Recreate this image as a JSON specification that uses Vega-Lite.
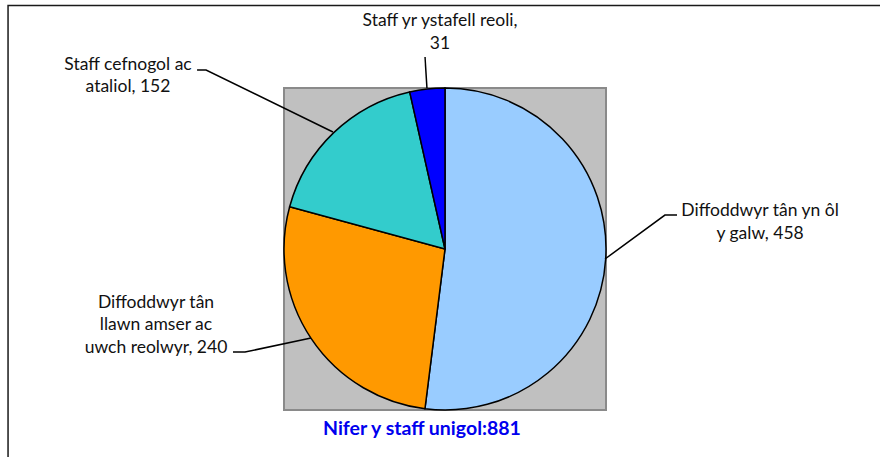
{
  "$schema": "https://vega.github.io/schema/vega-lite/v6.json",
  "width": 322,
  "height": 322,
  "autosize": {"type": "none"},
  "padding": {"left": 284, "top": 88, "right": 274, "bottom": 47},
  "background": "white",
  "config": {
    "view": {"fill": "#c0c0c0", "stroke": "#8a8a8a", "strokeWidth": 2},
    "font": "Lato"
  },
  "datasets": {
    "slices": [
      {"category": "Diffoddwyr tân yn ôl y galw", "value": 458, "seq": 1},
      {"category": "Diffoddwyr tân llawn amser ac uwch reolwyr", "value": 240, "seq": 2},
      {"category": "Staff cefnogol ac ataliol", "value": 152, "seq": 3},
      {"category": "Staff yr ystafell reoli", "value": 31, "seq": 4}
    ],
    "labels": [
      {"label": "Staff yr ystafell reoli,\n31", "u": -0.031, "v": 1.416},
      {"label": "Staff cefnogol ac\nataliol, 152", "u": -1.969, "v": 1.143},
      {"label": "Diffoddwyr tân\nllawn amser ac\nuwch reolwyr, 240", "u": -1.795, "v": -0.335},
      {"label": "Diffoddwyr tân yn ôl\ny galw, 458", "u": 1.957, "v": 0.236}
    ],
    "leaders": [
      {"id": "a", "seq": 1, "u": -0.124, "v": 1.193},
      {"id": "a", "seq": 2, "u": -0.112, "v": 1.0},
      {"id": "b", "seq": 1, "u": -1.540, "v": 1.112},
      {"id": "b", "seq": 2, "u": -1.484, "v": 1.112},
      {"id": "b", "seq": 3, "u": -0.696, "v": 0.727},
      {"id": "c", "seq": 1, "u": -1.317, "v": -0.640},
      {"id": "c", "seq": 2, "u": -1.242, "v": -0.640},
      {"id": "c", "seq": 3, "u": -0.832, "v": -0.553},
      {"id": "d", "seq": 1, "u": 1.441, "v": 0.211},
      {"id": "d", "seq": 2, "u": 1.366, "v": 0.211},
      {"id": "d", "seq": 3, "u": 0.994, "v": -0.062}
    ],
    "frame": [{"u1": -2.714, "u2": 3.2, "v1": 1.512, "v2": -1.8}],
    "total": [{"text": "Nifer y staff unigol:881", "u": -0.143, "v": -1.115}]
  },
  "layer": [
    {
      "data": {"name": "slices"},
      "mark": {"type": "arc", "stroke": "black", "strokeWidth": 1.5},
      "encoding": {
        "theta": {"field": "value", "type": "quantitative", "stack": true},
        "order": {"field": "seq", "type": "quantitative"},
        "color": {
          "field": "category",
          "type": "nominal",
          "legend": null,
          "scale": {
            "domain": ["Diffoddwyr tân yn ôl y galw", "Diffoddwyr tân llawn amser ac uwch reolwyr", "Staff cefnogol ac ataliol", "Staff yr ystafell reoli"],
            "range": ["#99ccff", "#ff9900", "#33cccc", "#0000ff"]
          }
        }
      }
    },
    {
      "data": {"name": "leaders"},
      "mark": {"type": "line", "color": "black", "strokeWidth": 1.5, "clip": false},
      "encoding": {
        "x": {"field": "u", "type": "quantitative", "scale": {"domain": [-1, 1], "nice": false, "zero": false}, "axis": null},
        "y": {"field": "v", "type": "quantitative", "scale": {"domain": [-1, 1], "nice": false, "zero": false}, "axis": null},
        "detail": {"field": "id"},
        "order": {"field": "seq", "type": "quantitative"}
      }
    },
    {
      "data": {"name": "labels"},
      "mark": {"type": "text", "fontSize": 17.5, "color": "#111", "align": "center", "baseline": "middle", "lineBreak": "\n", "lineHeight": 22.5, "clip": false},
      "encoding": {
        "x": {"field": "u", "type": "quantitative", "scale": {"domain": [-1, 1], "nice": false, "zero": false}, "axis": null},
        "y": {"field": "v", "type": "quantitative", "scale": {"domain": [-1, 1], "nice": false, "zero": false}, "axis": null},
        "text": {"field": "label"}
      }
    },
    {
      "data": {"name": "total"},
      "mark": {"type": "text", "fontSize": 19.5, "fontWeight": "bold", "color": "#0000ee", "align": "center", "baseline": "middle", "clip": false},
      "encoding": {
        "x": {"field": "u", "type": "quantitative", "scale": {"domain": [-1, 1], "nice": false, "zero": false}, "axis": null},
        "y": {"field": "v", "type": "quantitative", "scale": {"domain": [-1, 1], "nice": false, "zero": false}, "axis": null},
        "text": {"field": "text"}
      }
    },
    {
      "data": {"name": "frame"},
      "mark": {"type": "rect", "fill": null, "fillOpacity": 0, "stroke": "#1a1a1a", "strokeWidth": 1.5, "clip": false},
      "encoding": {
        "x": {"field": "u1", "type": "quantitative", "scale": {"domain": [-1, 1], "nice": false, "zero": false}, "axis": null},
        "x2": {"field": "u2"},
        "y": {"field": "v1", "type": "quantitative", "scale": {"domain": [-1, 1], "nice": false, "zero": false}, "axis": null},
        "y2": {"field": "v2"}
      }
    }
  ]
}
